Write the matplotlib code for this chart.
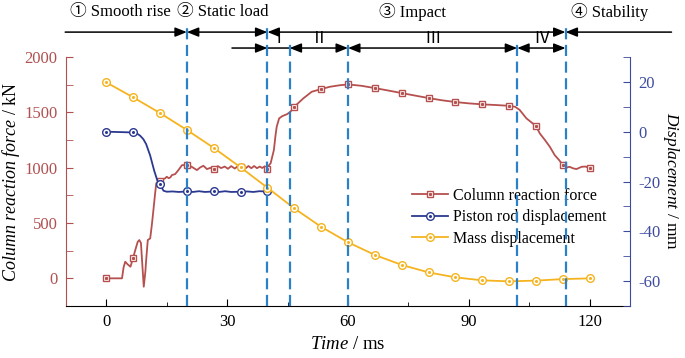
import numpy as np
import matplotlib
matplotlib.use("Agg")
import matplotlib.pyplot as plt
from matplotlib.ticker import MultipleLocator

plt.rcParams['font.family'] = ['Liberation Serif', 'Noto Sans CJK SC']
plt.rcParams['mathtext.fontset'] = 'custom'
plt.rcParams['mathtext.it'] = 'Liberation Serif:italic'
plt.rcParams['mathtext.rm'] = 'Liberation Serif'
plt.rcParams['axes.unicode_minus'] = False

# ---- data ----
force_t = [0, 3.9, 4.3, 4.7, 5.2, 5.5, 6.0, 6.67, 7.2, 7.8, 8.2, 8.6, 8.9, 9.3, 9.7,
           9.9, 10.3, 10.9, 11.3, 11.7, 12.1, 12.4, 12.9, 13.33, 13.8, 14.3, 14.6,
           15.0, 15.5, 15.9, 16.3, 17.1, 17.9, 18.8, 20.0, 21.2, 22.5, 23.3, 24.1,
           25.0, 25.8, 26.67, 27.7, 28.5, 29.4, 30.2, 31.0, 31.9, 32.6, 33.33, 33.9,
           34.6, 35.3, 36.0, 36.7, 37.4, 38.1, 38.7, 39.3, 39.7, 40.0, 40.4, 40.8,
           41.2, 41.6, 42.0, 42.3, 42.9, 43.7, 44.9, 45.7, 46.67, 48.9, 51.0, 53.33,
           55.5, 58.0, 60.0, 63.3, 66.67, 70.0, 73.33, 76.7, 80.0, 83.3, 86.67, 90.0,
           93.33, 96.7, 100.0, 101.5, 102.6, 104.3, 106.67, 107.6, 108.9, 110.1,
           111.3, 112.4, 113.33, 114.2, 115.0, 115.8, 116.7, 118.0, 119.0, 120.0]
force_kN = [0, 0, 100, 150, 130, 120, 105, 186, 256, 330, 346, 320, 150, -76, 60,
            165, 346, 361, 480, 617, 760, 858, 873, 880, 888, 900, 903,
            918, 905, 912, 933, 942, 978, 1023, 1023, 1008, 978, 1002, 1017,
            987, 998, 990, 1014, 996, 1010, 990, 1014, 992, 1012, 1003, 1015,
            995, 1015, 995, 1015, 995, 1010, 997, 1012, 985, 985, 1023, 1040,
            1100, 1159, 1290, 1369, 1445, 1466, 1484, 1505, 1550, 1626, 1686, 1710,
            1731, 1745, 1752, 1740, 1719, 1697, 1674, 1651, 1629, 1609, 1593, 1581,
            1572, 1566, 1559, 1550, 1522, 1445, 1376, 1310, 1249, 1189,
            1114, 1069, 1023, 1000, 1008, 995, 987, 1008, 1010, 994]

piston_t = [0, 6.67, 7.5, 8.4, 9.2, 9.9, 10.9, 11.9, 12.7, 13.33, 14.2, 15.0, 16.5,
            18.0, 20.0, 21.5, 23.0, 24.5, 26.67, 28.0, 29.5, 31.0, 33.33, 35.0,
            36.5, 38.0, 40.0]
piston_mm = [0, -0.3, -0.6, -1.6, -3.0, -5.0, -9.6, -15.7, -19.7, -21.2, -23.7,
             -24.1, -24.0, -24.2, -24.0, -24.2, -23.9, -24.2, -24.0, -24.2, -23.9,
             -24.2, -24.1, -24.0, -24.2, -23.9, -24.0]

mass_t = [0, 6.67, 13.33, 20.0, 26.67, 33.33, 40.0, 46.67, 53.33, 60.0, 66.67,
          73.33, 80.0, 86.67, 93.33, 100.0, 106.67, 113.33, 120.0]
mass_mm = [19.8, 13.8, 7.5, 0.7, -6.5, -14.3, -22.5, -30.8, -38.2, -44.4, -49.5,
           -53.5, -56.5, -58.5, -59.7, -60.1, -59.8, -59.2, -58.9]

marker_t = [0, 6.67, 13.33, 20.0, 26.67, 33.33, 40.0, 46.67, 53.33, 60.0, 66.67,
            73.33, 80.0, 86.67, 93.33, 100.0, 106.67, 113.33, 120.0]

phase_lines = [20, 40, 45.5, 60, 102, 114]
phase_labels = ['① Smooth rise', '② Static load', '③ Impact', '④ Stability']
phase_label_x = [3.5, 29, 76, 125]
sub_labels = ['Ⅰ', 'Ⅱ', 'Ⅲ', 'Ⅳ']

c_force = '#b5504f'
c_piston = '#2b3990'
c_mass = '#f5b41f'
c_left = '#b05050'
c_right = '#3d4b9e'
c_dash = '#2b80c8'

def marks(t):
    return [i for i, v in enumerate(t) if np.isclose(v, marker_t, atol=0.01).any()]

fig = plt.figure(figsize=(6.85, 3.58), dpi=100)
ax = fig.add_axes([66 / 685, 52 / 358, 564 / 685, 249 / 358])
ax2 = ax.twinx()

ms_kw = dict(markerfacecolor='white', markeredgewidth=1.0)
l_force, = ax.plot(force_t, force_kN, color=c_force, lw=1.3, marker='s', ms=5,
                   markevery=marks(force_t), markeredgecolor=c_force, **ms_kw)
d_force, = ax.plot(np.array(force_t)[marks(force_t)], np.array(force_kN)[marks(force_t)],
                   ls='none', marker='s', ms=1.2, color=c_force)
l_piston, = ax2.plot(piston_t, piston_mm, color=c_piston, lw=1.3, marker='o', ms=5.5,
                     markevery=marks(piston_t), markeredgecolor=c_piston, zorder=3, **ms_kw)
d_piston, = ax2.plot(np.array(piston_t)[marks(piston_t)], np.array(piston_mm)[marks(piston_t)],
                     ls='none', marker='o', ms=1.2, color=c_piston, zorder=3)
l_mass, = ax2.plot(mass_t, mass_mm, color=c_mass, lw=1.3, marker='o', ms=5.5,
                   markeredgecolor=c_mass, zorder=3.5, **ms_kw)
d_mass, = ax2.plot(mass_t, mass_mm, ls='none', marker='o', ms=1.2, color=c_mass, zorder=3.5)

ax.set_xlim(-10, 130)
ax.set_ylim(-250, 2000)
ax2.set_ylim(-70, 30)

# spines and ticks
for a in (ax, ax2):
    a.spines['top'].set_visible(False)
ax.spines['right'].set_visible(False)
ax2.spines['left'].set_visible(False)
ax2.spines['bottom'].set_visible(False)
ax.spines['left'].set_color(c_left)
ax2.spines['right'].set_color(c_right)

ax.xaxis.set_major_locator(MultipleLocator(30))
ax.xaxis.set_minor_locator(MultipleLocator(15))
ax.yaxis.set_major_locator(MultipleLocator(500))
ax.yaxis.set_minor_locator(MultipleLocator(250))
ax2.yaxis.set_major_locator(MultipleLocator(20))
ax2.yaxis.set_minor_locator(MultipleLocator(10))

ax.tick_params(axis='x', which='major', direction='in', length=5, labelsize=12, pad=6)
ax.tick_params(axis='x', which='minor', direction='in', length=3)
ax.tick_params(axis='y', which='both', direction='in', length=5, color=c_left,
               labelcolor=c_left, labelsize=12, pad=6)
ax2.tick_params(axis='y', which='both', direction='in', length=5, color=c_right,
                labelcolor=c_right, labelsize=12, pad=6)

ax.set_xlabel(r'$\mathit{Time}$ / ms', fontsize=13.5, labelpad=4)
ax.set_ylabel(r'$\mathit{Column\ reaction\ force}$ / kN', fontsize=13, labelpad=2)
fig.text(671 / 685, 0.493, r'$\mathit{Displacement}$ / mm', fontsize=12.5,
         rotation=270, ha='center', va='center')

# phase divider lines
for x in phase_lines:
    top = 1.133 if x in (20, 40, 114) else 1.06
    ax2.axvline(x, ymin=0, ymax=top, color=c_dash, lw=1.6, ls=(0, (5, 2.5)),
                clip_on=False, zorder=10)

trans = ax2.get_xaxis_transform()

def arrow(x0, x1, y, style):
    ax2.annotate('', xy=(x1, y), xytext=(x0, y), xycoords=trans, textcoords=trans,
                 annotation_clip=False,
                 arrowprops=dict(arrowstyle=style, color='black', lw=1.1,
                                 shrinkA=0, shrinkB=0, mutation_scale=10))

head = ',head_length=0.7,head_width=0.28'
y1, y2 = 1.10, 1.036
arrow(-10.2, 20, y1, '-|>' + head)
arrow(20, 40, y1, '<|-|>' + head)
arrow(40, 114, y1, '<|-|>' + head)
arrow(140.3, 114, y1, '-|>' + head)
arrow(31.2, 40, y2, '-|>' + head)
arrow(40, 45.5, y2, '-')
arrow(45.5, 60, y2, '<|-|>' + head)
arrow(60, 102, y2, '<|-|>' + head)
arrow(102, 114, y2, '<|-|>' + head)

for lab, x in zip(phase_labels, phase_label_x):
    ax2.text(x, 1.18, lab, transform=trans, ha='center', va='center', fontsize=12)
sub_x = [(phase_lines[i] + phase_lines[i + 1]) / 2 for i in range(1, 5)]
for lab, x in zip(sub_labels, sub_x):
    ax2.text(x, 1.072, lab, transform=trans, ha='center', va='center', fontsize=12,
             zorder=11)

leg = ax2.legend([(l_force, d_force), (l_piston, d_piston), (l_mass, d_mass)],
                 ['Column reaction force', 'Piston rod displacement', 'Mass displacement'],
                 loc='upper left', bbox_to_anchor=(0.613, 0.475), frameon=False,
                 fontsize=11.5, handlelength=2.3, handletextpad=0.3, labelspacing=0.35,
                 borderpad=0, borderaxespad=0)
leg.set_zorder(5)

fig.savefig('out.png', dpi=100)
